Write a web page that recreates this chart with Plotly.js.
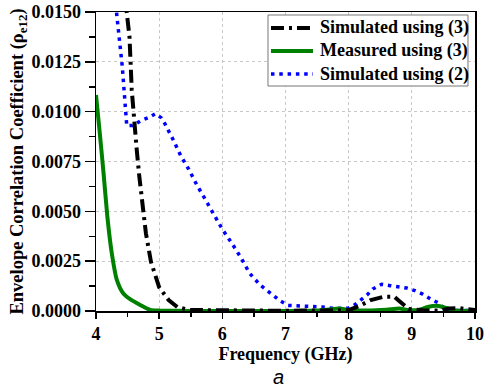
<!DOCTYPE html>
<html>
<head>
<meta charset="utf-8">
<script src="https://cdn.plot.ly/plotly-3.0.1.min.js"></script>
<style>
  html, body { margin: 0; padding: 0; background: #fff; }
  #chart { width: 484px; height: 389px; }
</style>
</head>
<body>
<div id="chart"></div>
<script>
// Envelope correlation coefficient vs frequency

// Simulated using (3)
const sim3Freq = [4.45, 4.487, 4.53, 4.566, 4.60, 4.645, 4.686, 4.734, 4.79, 4.87, 5.0, 5.15, 5.29, 5.49, 6.0, 7.0, 7.6, 7.85, 8.0, 8.17, 8.35, 8.56, 8.72, 8.8, 8.95, 9.2, 9.45, 9.6, 9.75, 9.85, 10.0];
const sim3Val  = [0.0160, 0.0148, 0.01376, 0.01109, 0.00953, 0.00808, 0.00674, 0.00523, 0.0039, 0.00247, 0.00119, 0.00055, 0.00019, 0.00005, 0.00002, 0.00001, 0.00003, 0.00006, 0.00004, 0.00025, 0.00055, 0.00072, 0.00072, 0.0005, 0.0001, 0.00002, 0.00003, 0.00013, 0.00015, 0.0001, 0.00005];

// Measured using (3)
const meas3Freq = [4.0, 4.06, 4.12, 4.18, 4.25, 4.33, 4.43, 4.54, 4.70, 4.86, 5.01, 6.0, 7.0, 7.5, 7.7, 7.85, 8.0, 8.3, 8.6, 8.8, 8.95, 9.1, 9.25, 9.4, 9.55, 9.7, 10.0];
const meas3Val  = [0.01084, 0.00892, 0.0069, 0.00473, 0.0029, 0.00156, 0.00089, 0.00059, 0.0003, 0.00005, 0.00002, 0.0, 0.0, 0.00002, 0.00008, 0.00012, 0.00005, 0.00002, 0.00006, 0.00012, 0.00005, 0.00005, 0.0002, 0.00026, 0.00015, 0.00002, 0.0];

// Simulated using (2)
const sim2Freq = [4.31, 4.327, 4.415, 4.487, 4.58, 4.71, 4.83, 4.94, 5.03, 5.09, 5.22, 5.34, 5.47, 5.60, 5.73, 5.87, 6.00, 6.15, 6.29, 6.43, 6.60, 6.80, 6.92, 7.04, 7.3, 7.58, 7.8, 8.0, 8.09, 8.19, 8.29, 8.38, 8.52, 8.66, 8.79, 8.92, 9.05, 9.17, 9.29, 9.41, 9.52, 9.7, 10.0];
const sim2Val  = [0.0158, 0.0149, 0.0123, 0.0093, 0.0093, 0.00955, 0.0097, 0.0099, 0.0097, 0.0094, 0.0086, 0.0078, 0.0071, 0.0063, 0.0056, 0.0048, 0.0041, 0.0034, 0.0027, 0.0019, 0.0013, 0.0008, 0.0005, 0.00028, 0.00025, 0.0002, 0.00012, 0.00015, 0.0003, 0.00055, 0.0008, 0.0011, 0.00134, 0.00127, 0.00122, 0.00115, 0.00102, 0.00085, 0.00062, 0.00042, 0.0001, 0.00003, 0.00002];

const xTicks = [4, 5, 6, 7, 8, 9, 10];
const yTicks = [0.0, 0.0025, 0.005, 0.0075, 0.01, 0.0125, 0.015];
const yTickText = ['0.0000', '0.0025', '0.0050', '0.0075', '0.0100', '0.0125', '0.0150'];

const serif = 'Liberation Serif, Times New Roman, serif';

// line styles shared by traces and legend keys
const styles = {
  sim3:  { color: '#000000', width: 4, dash: '13px,5px,3px,5px' },
  meas3: { color: '#008000', width: 4 },
  sim2:  { color: '#0000ff', width: 3.5, dash: '3.5px,4.8px' }
};

const traces = [
  { x: sim2Freq, y: sim2Val, name: 'Simulated using (2)', mode: 'lines', line: styles.sim2 },
  { x: meas3Freq, y: meas3Val, name: 'Measured using (3)', mode: 'lines',
    line: Object.assign({ shape: 'spline', smoothing: 0.6 }, styles.meas3) },
  { x: sim3Freq, y: sim3Val, name: 'Simulated using (3)', mode: 'lines', line: styles.sim3 }
];

// boxed key in the upper right of the plot area
const legendRows = [
  { label: 'Simulated using (3)', style: styles.sim3, y: 0.9465 },
  { label: 'Measured using (3)', style: styles.meas3, y: 0.8696 },
  { label: 'Simulated using (2)', style: styles.sim2, y: 0.7926 }
];
const keyX0 = 0.4617, keyX1 = 0.5726, keyTextX = 0.5858;

const shapes = [{
  type: 'rect', xref: 'paper', yref: 'paper',
  x0: 0.4538, x1: 0.9815, y0: 0.7525, y1: 0.99,
  line: { color: '#777', width: 1 }, fillcolor: '#fff', layer: 'above'
}];
const annotations = [];
legendRows.forEach(r => {
  shapes.push({
    type: 'line', xref: 'paper', yref: 'paper',
    x0: keyX0, x1: keyX1, y0: r.y, y1: r.y,
    line: r.style, layer: 'above'
  });
  annotations.push({
    text: r.label, xref: 'paper', yref: 'paper', x: keyTextX, y: r.y,
    xanchor: 'left', yanchor: 'middle', showarrow: false,
    font: { family: serif, size: 18, color: '#000', weight: 'bold' }
  });
});
annotations.push({
  text: 'a', xref: 'paper', yref: 'paper', x: 0.482, y: -0.22,
  xanchor: 'center', yanchor: 'middle', showarrow: false,
  font: { family: 'Liberation Sans, Arial, sans-serif', size: 20, color: '#000', style: 'italic' }
});

const axisCommon = {
  showline: true, linecolor: '#000', linewidth: 1.5, mirror: true,
  ticks: 'outside', tickcolor: '#000', tickwidth: 1.5,
  showgrid: true, gridcolor: '#c8c8c8', gridwidth: 1, griddash: 'dot',
  zeroline: false, automargin: false,
  tickfont: { family: serif, size: 18, color: '#000', weight: 'bold' }
};

const layout = {
  width: 484, height: 389,
  margin: { l: 96, r: 9, t: 12, b: 78 },
  paper_bgcolor: '#fff', plot_bgcolor: '#fff',
  showlegend: false,
  xaxis: Object.assign({}, axisCommon, {
    range: [4, 10], tickvals: xTicks, ticklen: 6,
    minor: { dtick: 0.5, ticklen: 4, tickcolor: '#000', ticks: 'outside', showgrid: false },
    title: { text: 'Frequency (GHz)', font: { family: serif, size: 18, color: '#000', weight: 'bold' }, standoff: 0 }
  }),
  yaxis: Object.assign({}, axisCommon, {
    range: [0, 0.015], tickvals: yTicks, ticktext: yTickText, ticklen: 10,
    minor: { dtick: 0.00125, ticklen: 6, tickcolor: '#000', ticks: 'outside', showgrid: false },
    title: { text: 'Envelope Correlation Coefficient (ρ<sub>e12</sub>)', font: { family: serif, size: 18.5, color: '#000', weight: 'bold' }, standoff: 3 }
  }),
  shapes: shapes,
  annotations: annotations
};

Plotly.newPlot('chart', traces, layout, { displayModeBar: false, staticPlot: true });
</script>
</body>
</html>
